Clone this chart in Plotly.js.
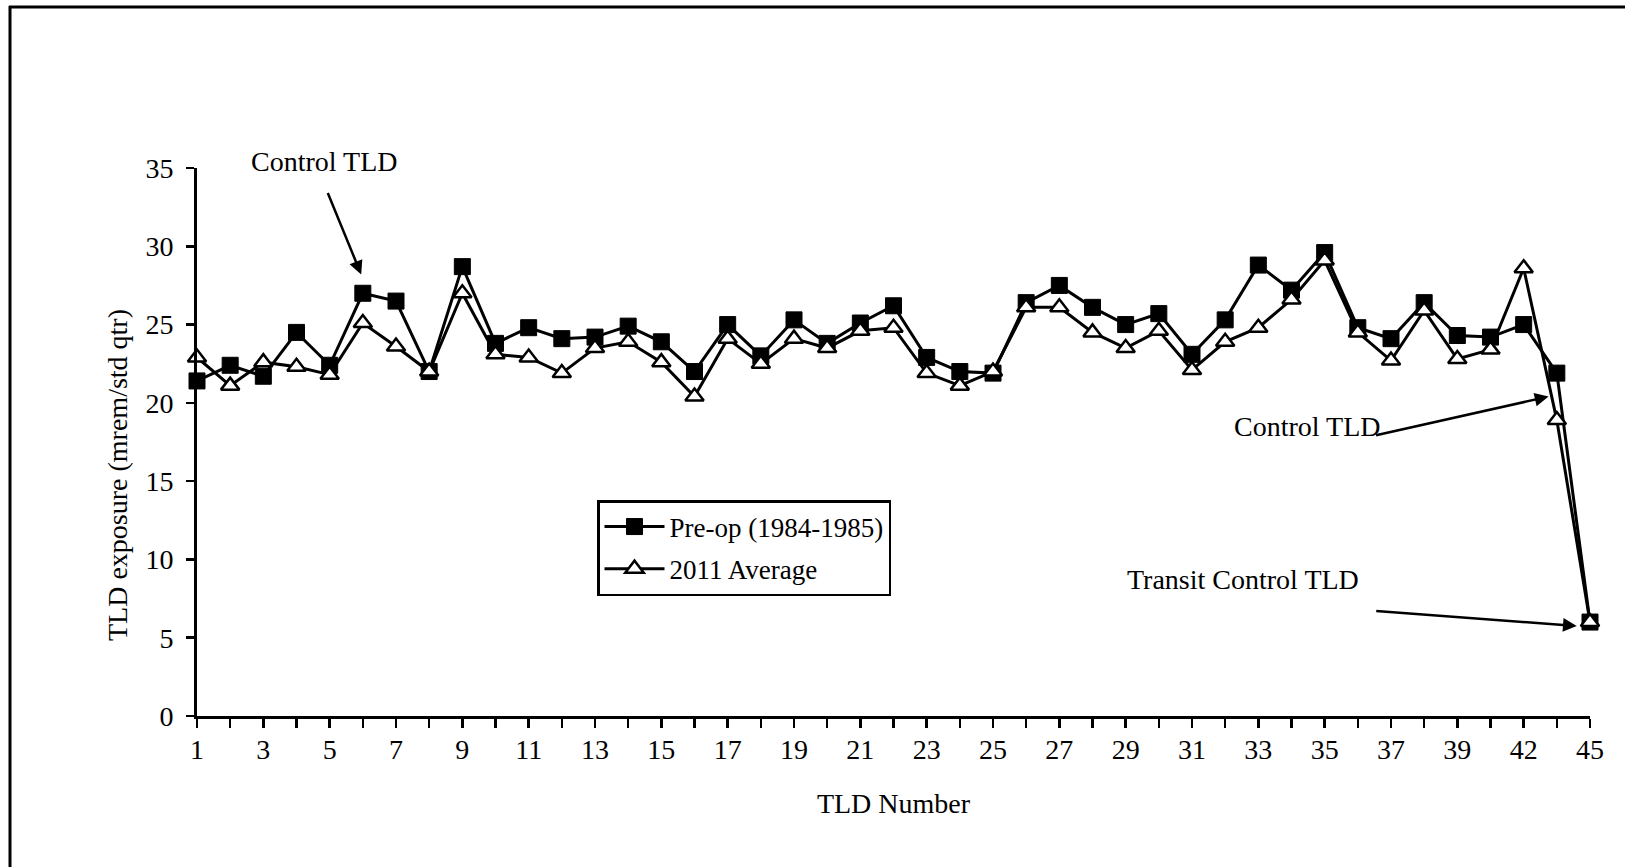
<!DOCTYPE html>
<html>
<head>
<meta charset="utf-8">
<script src="https://cdn.plot.ly/plotly-3.0.1.min.js"></script>
<style>
  html, body { margin: 0; padding: 0; background: #ffffff; }
  #chart { width: 1625px; height: 867px; }
</style>
</head>
<body>
<div id="chart"></div>
<script>
// ---- Data ----
const tldNumbers = ["1","2","3","4","5","6","7","8","9","10",
  "11","12","13","14","15","16","17","18","19","20",
  "21","22","23","24","25","26","27","28","29","30",
  "31","32","33","34","35","36","37","38","39","40",
  "42","44","45"];
const preOp = [21.4, 22.4, 21.7, 24.5, 22.4, 27.0, 26.5, 22.0, 28.7, 23.8,
  24.8, 24.1, 24.2, 24.9, 23.9, 22.0, 25.0, 23.0, 25.3, 23.8,
  25.1, 26.2, 22.9, 22.0, 21.9, 26.4, 27.5, 26.1, 25.0, 25.7,
  23.1, 25.3, 28.8, 27.2, 29.6, 24.8, 24.1, 26.4, 24.3, 24.2,
  25.0, 21.9, 6.0];
const avg2011 = [22.9, 21.1, 22.6, 22.3, 21.8, 25.1, 23.6, 22.0, 27.0, 23.1,
  22.9, 21.9, 23.5, 23.9, 22.6, 20.4, 24.1, 22.5, 24.1, 23.5,
  24.6, 24.8, 21.9, 21.1, 22.0, 26.1, 26.1, 24.5, 23.5, 24.6,
  22.1, 23.9, 24.8, 26.6, 29.1, 24.5, 22.7, 25.9, 22.8, 23.4,
  28.6, 18.9, 6.0];
const seriesNames = ["Pre-op (1984-1985)", "2011 Average"];
const tickText = tldNumbers.map((t, i) => (i % 2 === 0 ? t : ""));
const xTitle = "TLD Number";
const yTitle = "TLD exposure (mrem/std qtr)";

// ---- Styling ----
const FONT = '"Liberation Serif", "Times New Roman", serif';
const W = 1625, H = 867;
const M = { l: 197, r: 35, t: 168, b: 151 };
const PW = W - M.l - M.r, PH = H - M.t - M.b;
const px2x = px => (px - M.l) / PW;
const px2y = py => (H - M.b - py) / PH;

const traces = [
  {
    type: "scatter", mode: "lines+markers", name: seriesNames[0],
    x: tldNumbers, y: preOp, legendgroup: "a",
    line: { color: "#000", width: 3 },
    marker: { symbol: "square", size: 16, color: "#000", line: { color: "#000", width: 1 } },
    cliponaxis: false
  },
  {
    type: "scatter", mode: "lines+markers", name: seriesNames[1],
    x: tldNumbers, y: avg2011, legendgroup: "b",
    line: { color: "#000", width: 3 },
    marker: { symbol: "triangle-up", size: 16, color: "#fff", line: { color: "#000", width: 2.5 } },
    cliponaxis: false
  }
];

const nCat = tldNumbers.length - 1;

const layout = {
  width: W, height: H,
  margin: M,
  paper_bgcolor: "#fff", plot_bgcolor: "#fff",
  font: { family: FONT, size: 28, color: "#000" },
  showlegend: true,
  legend: {
    x: px2x(597), y: px2y(500), xanchor: "left", yanchor: "top",
    bgcolor: "#fff", bordercolor: "#000", borderwidth: 2.5,
    font: { family: FONT, size: 27, color: "#000" },
    itemwidth: 60,
    tracegroupgap: 4
  },
  xaxis: {
    type: "category", range: [0, nCat],
    tickmode: "array", tickvals: tldNumbers, ticktext: tickText,
    ticks: "outside", ticklen: 9, tickwidth: 2.5, tickcolor: "#000",
    ticklabelstandoff: -3,
    showline: true, linecolor: "#000", linewidth: 3,
    showgrid: false, zeroline: false,
    tickfont: { family: FONT, size: 28, color: "#000" },
    title: { text: xTitle, font: { family: FONT, size: 28, color: "#000" }, standoff: 30 },
    automargin: false
  },
  yaxis: {
    range: [0, 35], dtick: 5, tick0: 0,
    ticks: "outside", ticklen: 8, tickwidth: 2.5, tickcolor: "#000",
    ticklabelstandoff: 7,
    showline: true, linecolor: "#000", linewidth: 3,
    showgrid: false, zeroline: false,
    tickfont: { family: FONT, size: 28, color: "#000" },
    automargin: false
  },
  // overlay axes give the ticks that cross to the inside
  xaxis2: {
    overlaying: "x", anchor: "y", side: "bottom",
    range: [0, nCat], tick0: 0, dtick: 1,
    ticks: "inside", ticklen: 8, tickwidth: 2.5, tickcolor: "#000",
    showticklabels: false, showline: false, showgrid: false, zeroline: false
  },
  yaxis2: {
    overlaying: "y", anchor: "x", side: "left",
    range: [0, 35], tick0: 0, dtick: 5,
    ticks: "inside", ticklen: 8, tickwidth: 2.5, tickcolor: "#000",
    showticklabels: false, showline: false, showgrid: false, zeroline: false
  },
  shapes: [
    { type: "line", xref: "paper", yref: "paper",
      x0: px2x(9), x1: px2x(1625), y0: px2y(7), y1: px2y(7),
      line: { color: "#000", width: 3 } },
    { type: "line", xref: "paper", yref: "paper",
      x0: px2x(10), x1: px2x(10), y0: px2y(6), y1: px2y(867),
      line: { color: "#000", width: 3 } }
  ],
  annotations: [
    // y-axis title (placed where the reference has it, below the axis centre)
    { xref: "paper", yref: "paper", x: px2x(117), y: px2y(475), xanchor: "center", yanchor: "middle",
      text: yTitle, textangle: -90, showarrow: false,
      font: { family: FONT, size: 28, color: "#000" } },
    // labels
    { xref: "paper", yref: "paper", x: px2x(324), y: px2y(161), xanchor: "center", yanchor: "middle",
      text: "Control TLD", showarrow: false,
      font: { family: FONT, size: 28, color: "#000" } },
    { xref: "x", yref: "y", x: 33.46, y: 18.5, xanchor: "center", yanchor: "middle",
      text: "Control TLD", showarrow: false,
      font: { family: FONT, size: 28, color: "#000" } },
    { xref: "x", yref: "y", x: 31.53, y: 8.75, xanchor: "center", yanchor: "middle",
      text: "Transit Control TLD", showarrow: false,
      font: { family: FONT, size: 28, color: "#000" } },
    // arrows
    { xref: "x", yref: "y", x: 4.95, y: 28.2, text: "", showarrow: true,
      ax: -34, ay: -83, arrowhead: 2, arrowsize: 1.1, arrowwidth: 2.5, arrowcolor: "#000", standoff: 0 },
    { xref: "x", yref: "y", x: 40.75, y: 20.4, text: "", showarrow: true,
      ax: -174, ay: 39, arrowhead: 2, arrowsize: 1.1, arrowwidth: 2.5, arrowcolor: "#000", standoff: 0 },
    { xref: "x", yref: "y", x: 41.6, y: 5.75, text: "", showarrow: true,
      ax: -202, ay: -15, arrowhead: 2, arrowsize: 1.1, arrowwidth: 2.5, arrowcolor: "#000", standoff: 0 }
  ]
};

Plotly.newPlot("chart", traces, layout, { displayModeBar: false, staticPlot: true });
</script>
</body>
</html>
